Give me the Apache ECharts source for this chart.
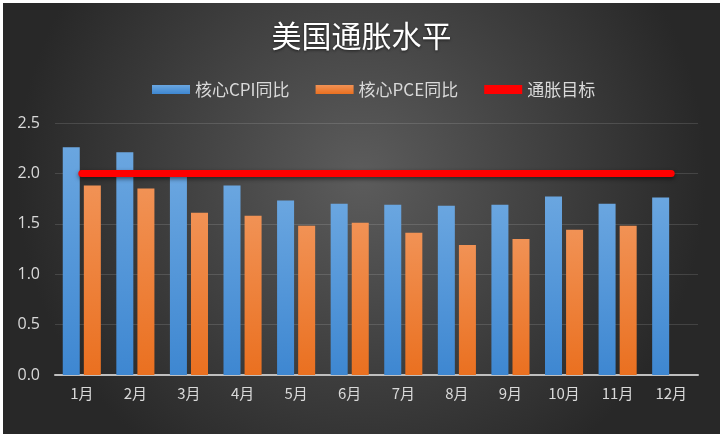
<!DOCTYPE html>
<html><head><meta charset="utf-8">
<script src="https://cdn.jsdelivr.net/npm/echarts@6/dist/echarts.min.js"></script>
<style>
html,body{margin:0;padding:0;background:#ffffff;}
#c{position:absolute;left:3px;top:3px;width:717px;height:431px;}
</style></head>
<body><div id="c"></div>
<script>
const categories = ['1月','2月','3月','4月','5月','6月','7月','8月','9月','10月','11月','12月'];
const cpi = [2.26, 2.21, 1.98, 1.88, 1.73, 1.70, 1.69, 1.68, 1.69, 1.77, 1.70, 1.76];
const pce = [1.88, 1.85, 1.61, 1.58, 1.48, 1.51, 1.41, 1.29, 1.35, 1.44, 1.48, null];
const target = [2, 2, 2, 2, 2, 2, 2, 2, 2, 2, 2, 2];
const yTicks = { min: 0, max: 2.5, interval: 0.5 };

const chart = echarts.init(document.getElementById('c'));
const txt = '#d9d9d9';
const font = '"Noto Sans CJK SC", "Open Sans", sans-serif';
chart.setOption({
  backgroundColor: new echarts.graphic.RadialGradient(0.5, 0.4, 0.8, [
    { offset: 0, color: '#5c5c5c' },
    { offset: 1, color: '#282828' }
  ]),
  textStyle: { fontFamily: font },
  title: {
    text: '美国通胀水平', left: 'center', top: 13,
    textStyle: { color: '#ffffff', fontSize: 30, fontWeight: 'normal', fontFamily: font,
      textShadowColor: 'rgba(0,0,0,0.6)', textShadowBlur: 3, textShadowOffsetY: 1 }
  },
  legend: {
    top: 73, left: 144, itemWidth: 38, itemHeight: 9, itemGap: 26,
    textStyle: { color: txt, fontSize: 17, fontFamily: font },
    data: [
      { name: '核心CPI同比', icon: 'rect' },
      { name: '核心PCE同比', icon: 'rect' },
      { name: '通胀目标', icon: 'rect', itemStyle: { color: '#ff0000' } }
    ]
  },
  grid: { left: 52, right: 22, top: 120, bottom: 59, containLabel: false },
  xAxis: {
    type: 'category', data: categories,
    axisLine: { lineStyle: { color: '#bfbfbf', width: 2 } },
    axisTick: { show: false },
    axisLabel: { color: txt, fontSize: 15, margin: 11, fontFamily: font }
  },
  yAxis: {
    type: 'value', min: yTicks.min, max: yTicks.max, interval: yTicks.interval,
    axisLine: { show: false }, axisTick: { show: false },
    axisLabel: { color: txt, fontSize: 16, margin: 15, formatter: v => v.toFixed(1), fontFamily: '"Open Sans", sans-serif' },
    splitLine: { lineStyle: { color: 'rgba(255,255,255,0.13)', width: 1 } }
  },
  series: [
    {
      name: '核心CPI同比', type: 'bar', data: cpi, barWidth: 17, barGap: '24%',
      itemStyle: {
        color: new echarts.graphic.LinearGradient(0, 0, 0, 1, [
          { offset: 0, color: '#6aa6e0' }, { offset: 1, color: '#3e87d1' }
        ]),
        shadowColor: 'rgba(0,0,0,0.5)', shadowBlur: 4, shadowOffsetX: 2, shadowOffsetY: 1
      }
    },
    {
      name: '核心PCE同比', type: 'bar', data: pce, barWidth: 17,
      itemStyle: {
        color: new echarts.graphic.LinearGradient(0, 0, 0, 1, [
          { offset: 0, color: '#f19255' }, { offset: 1, color: '#ea7020' }
        ]),
        shadowColor: 'rgba(0,0,0,0.5)', shadowBlur: 4, shadowOffsetX: 2, shadowOffsetY: 1
      }
    },
    {
      name: '通胀目标', type: 'line', data: target, symbol: 'none', z: 5,
      itemStyle: { color: '#ff0000' },
      lineStyle: { color: '#ff0000', width: 7, cap: 'round',
        shadowColor: 'rgba(0,0,0,0.5)', shadowBlur: 4, shadowOffsetY: 2 }
    }
  ]
});
</script></body></html>
